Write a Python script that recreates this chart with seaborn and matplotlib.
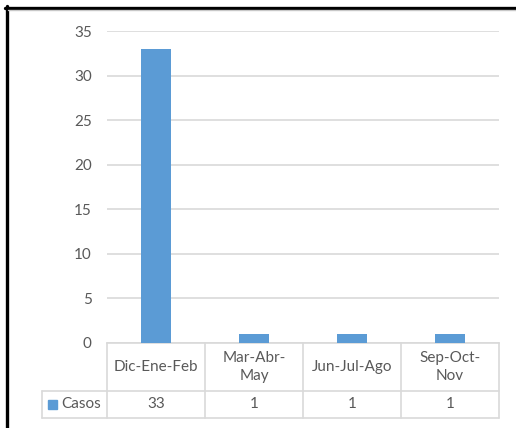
import matplotlib
matplotlib.use("Agg")
import matplotlib.pyplot as plt
import matplotlib.transforms as mtransforms
from matplotlib.lines import Line2D
from matplotlib.patches import Rectangle
import seaborn as sns
import pandas as pd

categories = ["Dic-Ene-Feb", "Mar-Abr-\nMay", "Jun-Jul-Ago", "Sep-Oct-\nNov"]
values = [33, 1, 1, 1]
series_name = "Casos"
y_ticks = [0, 5, 10, 15, 20, 25, 30, 35]

BAR = "#5b9bd5"
GRID = "#d9d9d9"
TXT = "#595959"

sns.set_theme(style="white")
plt.rcParams['font.family'] = ['Lato', 'DejaVu Sans']

W, H = 516, 428
fig = plt.figure(figsize=(W / 100, H / 100), dpi=100)
ax = fig.add_axes([107 / W, (H - 343) / H, 392 / W, 312 / H])

df = pd.DataFrame({"cat": categories, "val": values})
sns.barplot(data=df, x="cat", y="val", order=categories, color=BAR,
            saturation=1, width=0.31, ax=ax, zorder=3, linewidth=0, edgecolor=BAR)

ax.set_xlim(-0.5, len(categories) - 0.5)
ax.set_ylim(0, 35)
ax.set_yticks(y_ticks)
ax.set_yticklabels([str(t) for t in y_ticks], color=TXT, fontsize=11)
ax.tick_params(axis="y", length=0, pad=11)
ax.set_xticks([])
ax.set_xlabel("")
ax.set_ylabel("")
ax.yaxis.grid(True, color=GRID, linewidth=1.2, zorder=0)
ax.set_axisbelow(True)
for s in ["top", "right", "left"]:
    ax.spines[s].set_visible(False)
ax.spines["bottom"].set_color(GRID)
ax.spines["bottom"].set_linewidth(1.2)

# data table under the axis
tr = mtransforms.blended_transform_factory(ax.transData, ax.transAxes)
px = 1.0 / 312.0
y_top = 0.0
y_mid = -48 * px
y_bot = -75 * px
x_leg = -0.5 - 65 / 98.0
n = len(categories)

def hline(x0, x1, y):
    ax.add_line(Line2D([x0, x1], [y, y], transform=tr, color=GRID, lw=1.2, clip_on=False))

def vline(x, y0, y1):
    ax.add_line(Line2D([x, x], [y0, y1], transform=tr, color=GRID, lw=1.2, clip_on=False))

hline(x_leg, n - 0.5, y_mid)
hline(x_leg, n - 0.5, y_bot)
vline(x_leg, y_mid, y_bot)
for i in range(n + 1):
    vline(i - 0.5, y_top, y_bot)

for i, (c, v) in enumerate(zip(categories, values)):
    ax.text(i, (y_top + y_mid) / 2, c, transform=tr, ha="center", va="center",
            color=TXT, fontsize=11, linespacing=1.3, clip_on=False)
    ax.text(i, (y_mid + y_bot) / 2, str(v), transform=tr, ha="center", va="center",
            color=TXT, fontsize=11, clip_on=False)

# legend key in the table
ax.add_patch(Rectangle((x_leg + 6 / 98.0, (y_mid + y_bot) / 2 - 4.5 * px), 9 / 98.0, 9 * px,
                       transform=tr, color=BAR, clip_on=False))
ax.text(x_leg + 19 / 98.0, (y_mid + y_bot) / 2, series_name, transform=tr, ha="left",
        va="center", color=TXT, fontsize=11, clip_on=False)

# outer frame (black top/left, thin grey inside)
fig.add_artist(Line2D([5 / W, 1], [1 - 7.5 / H, 1 - 7.5 / H], transform=fig.transFigure,
                      color="black", lw=2.4))
fig.add_artist(Line2D([6.5 / W, 6.5 / W], [0, 1 - 6 / H], transform=fig.transFigure,
                      color="black", lw=2.4))
fig.add_artist(Line2D([8 / W, 1], [1 - 10 / H, 1 - 10 / H], transform=fig.transFigure,
                      color="#c8c8c8", lw=1))

fig.savefig("out.png", dpi=100, facecolor="white")
